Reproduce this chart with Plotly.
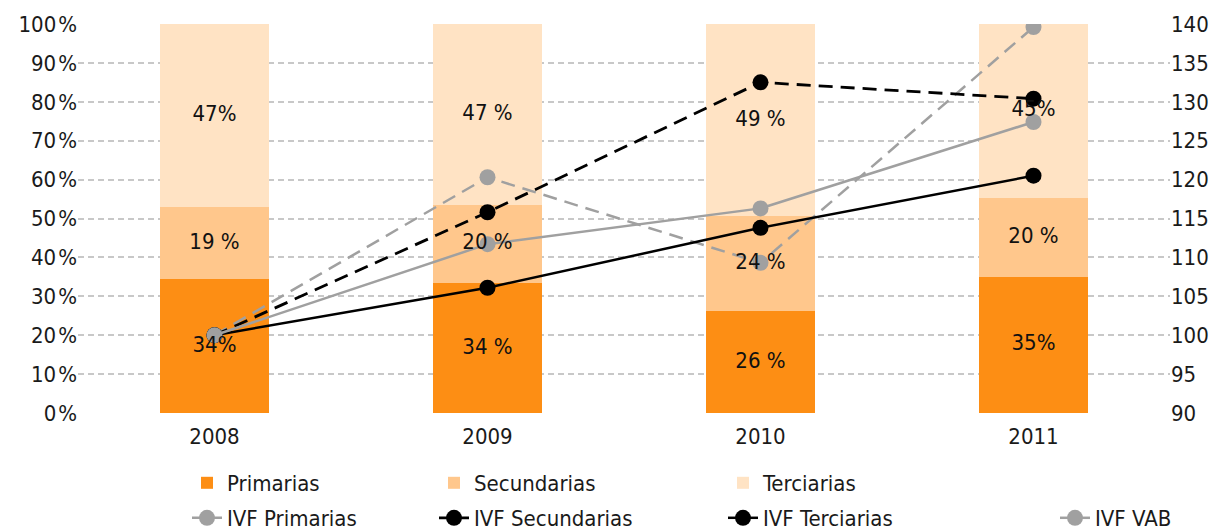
import plotly.graph_objects as go

years = ["2008", "2009", "2010", "2011"]
primarias = [34.4, 33.4, 26.2, 35.0]
secundarias = [18.6, 20.1, 24.4, 20.3]
terciarias = [47.0, 46.5, 49.4, 44.7]
lab_pri = ["34%", "34 %", "26 %", "35%"]
lab_sec = ["19 %", "20 %", "24 %", "20 %"]
lab_ter = ["47%", "47 %", "49 %", "45%"]

ivf_primarias = [100, 120.3, 109.3, 139.6]
ivf_secundarias = [100, 115.8, 132.5, 130.4]
ivf_terciarias = [100, 106.1, 113.8, 120.5]
ivf_vab = [100, 111.7, 116.3, 127.4]

left_ticks = list(range(0, 101, 10))
left_labels = [f"{v}\u200a%" for v in left_ticks]
right_ticks = list(range(90, 141, 5))
L_RANGE = [0, 100]
R_RANGE = [90, 140]

FONT = "DejaVu Sans Condensed, Liberation Sans Narrow, sans-serif"
FS = 22
C_PRI = "#FD8E14"
C_SEC = "#FFC78C"
C_TER = "#FFE3C4"
GRAY = "#A0A0A0"

W, H = 1220, 532
leg_pos = {
    "Primarias": (227, 483), "Secundarias": (474, 483), "Terciarias": (763, 483),
    "IVF Primarias": (227, 518), "IVF Secundarias": (474, 518),
    "IVF Terciarias": (763, 518), "IVF VAB": (1095, 518),
}

fig = go.Figure()
legends = {}
i = 0
bar_series = [("Primarias", primarias, lab_pri, C_PRI),
              ("Secundarias", secundarias, lab_sec, C_SEC),
              ("Terciarias", terciarias, lab_ter, C_TER)]
for name, vals, labs, col in bar_series:
    i += 1
    lid = "legend" if i == 1 else f"legend{i}"
    legends[lid] = name
    fig.add_trace(go.Bar(x=years, y=vals, name=name, marker=dict(color=col, line=dict(width=0)),
                         legend=lid, hoverinfo="skip"))

for name, vals, col, dash, lw in [("IVF Primarias", ivf_primarias, GRAY, "14px,8px", 2.5),
                                  ("IVF Secundarias", ivf_secundarias, "#000000", "14px,8px", 2.8),
                                  ("IVF Terciarias", ivf_terciarias, "#000000", "solid", 2.5),
                                  ("IVF VAB", ivf_vab, GRAY, "solid", 2.5)]:
    i += 1
    lid = f"legend{i}"
    legends[lid] = name
    fig.add_trace(go.Scatter(x=years, y=vals, name=name, yaxis="y2", mode="lines+markers",
                             line=dict(color=col, width=lw, dash=dash),
                             marker=dict(size=16, color=col), legend=lid))

# segment labels drawn on top of the lines (midpoints of stacked segments, mapped to right axis)
def to_right(v):
    return R_RANGE[0] + (v - L_RANGE[0]) / (L_RANGE[1] - L_RANGE[0]) * (R_RANGE[1] - R_RANGE[0])

base = [0.0] * len(years)
lx, ly, lt = [], [], []
for name, vals, labs, col in bar_series:
    for k in range(len(years)):
        lx.append(years[k])
        ly.append(to_right(base[k] + vals[k] / 2))
        lt.append(labs[k])
        base[k] += vals[k]
fig.add_trace(go.Scatter(x=lx, y=ly, text=lt, mode="text", yaxis="y2", showlegend=False,
                         textfont=dict(size=FS, color="#111111", family=FONT), hoverinfo="skip"))

layout_leg = {}
for lid, name in legends.items():
    tx, ty = leg_pos[name]
    layout_leg[lid] = dict(xref="container", yref="container",
                           x=(tx - 40) / W, xanchor="left",
                           y=1 - ty / H, yanchor="middle",
                           font=dict(size=FS, family=FONT, color="#1a1a1a"),
                           bgcolor="rgba(0,0,0,0)", borderwidth=0)

fig.update_layout(
    width=W, height=H,
    margin=dict(l=78, r=50, t=24, b=119, autoexpand=False),
    barmode="stack", bargap=0.6,
    plot_bgcolor="white", paper_bgcolor="white",
    font=dict(family=FONT, size=FS, color="#1a1a1a"),
    xaxis=dict(showline=False, ticks="", showgrid=False, tickfont=dict(size=FS),
               ticklabelstandoff=8),
    yaxis=dict(range=L_RANGE, tickvals=left_ticks, ticktext=left_labels,
               showgrid=True, gridcolor="#C8C8C8", griddash="6px,4px", gridwidth=1.5,
               zeroline=False, showline=False, ticks="", tickfont=dict(size=FS)),
    yaxis2=dict(range=R_RANGE, tickvals=right_ticks, overlaying="y", side="right",
                showgrid=False, zeroline=False, showline=False, ticks="", tickfont=dict(size=FS)),
    showlegend=True,
    **layout_leg,
)

fig.write_html("out.html", config={"displayModeBar": False},
               post_script="document.body.style.margin='0';document.body.style.overflow='hidden';")
